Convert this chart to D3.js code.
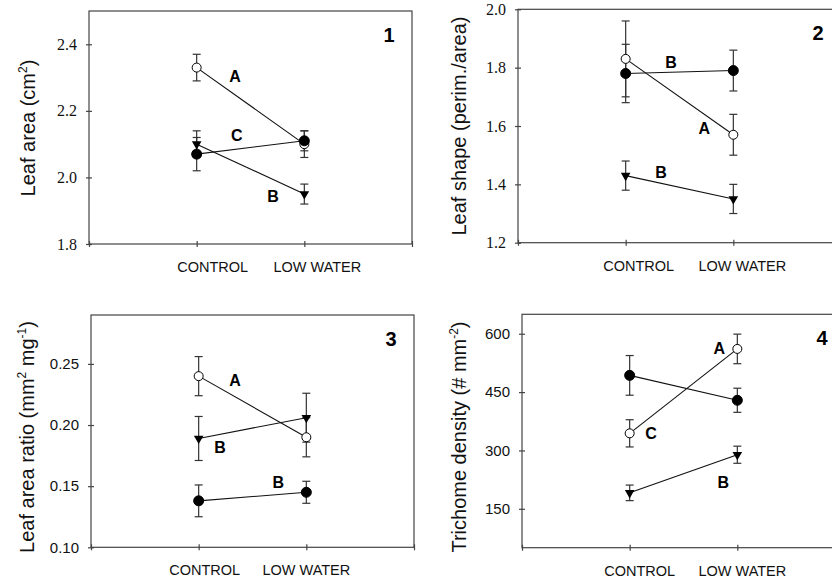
<!DOCTYPE html>
<html>
<head>
<meta charset="utf-8">
<script src="https://cdn.jsdelivr.net/npm/d3@7"></script>
<style>
  body { margin: 0; background: #fff; }
  svg { display: block; }
</style>
</head>
<body>
<script>
// treatments on the x axis
var treatments = ["CONTROL", "LOW WATER"];
var treatmentX = [1, 2];

// panel 1 - leaf area (cm2)
var areaOpen = [2.33, 2.10], areaOpenErr = [0.04, 0.04];
var areaFilled = [2.07, 2.11], areaFilledErr = [0.05, 0.03];
var areaTri = [2.10, 1.95], areaTriErr = [0.04, 0.03];
var areaTicks = [1.8, 2.0, 2.2, 2.4];
var areaLetters = ["A", "C", "B"];
var areaLetterX = [1.356, 1.372, 1.709];
var areaLetterY = [2.304, 2.127, 1.943];

// panel 2 - leaf shape (perim./area)
var shapeOpen = [1.83, 1.57], shapeOpenErr = [0.13, 0.07];
var shapeFilled = [1.78, 1.79], shapeFilledErr = [0.10, 0.07];
var shapeTri = [1.43, 1.35], shapeTriErr = [0.05, 0.05];
var shapeTicks = [1.2, 1.4, 1.6, 1.8, 2.0];
var shapeLetters = ["B", "A", "B"];
var shapeLetterX = [1.421, 1.730, 1.328];
var shapeLetterY = [1.819, 1.592, 1.441];

// panel 3 - leaf area ratio
var larOpen = [0.240, 0.190], larOpenErr = [0.016, 0.016];
var larFilled = [0.138, 0.145], larFilledErr = [0.013, 0.009];
var larTri = [0.189, 0.206], larTriErr = [0.018, 0.020];
var larTicks = [0.10, 0.15, 0.20, 0.25];
var larLetters = ["A", "B", "B"];
var larLetterX = [1.337, 1.198, 1.740];
var larLetterY = [0.2367, 0.1817, 0.1536];

// panel 4 - trichome density
var trichOpen = [344, 561], trichOpenErr = [35, 38];
var trichFilled = [493, 429], trichFilledErr = [51, 31];
var trichTri = [191, 289], trichTriErr = [20, 22];
var trichTicks = [150, 300, 450, 600];
var trichLetters = ["A", "C", "B"];
var trichLetterX = [1.832, 1.198, 1.870];
var trichLetterY = [562, 344, 219];

var panels = [
	{
		num: "1", left: 89, top: 11, bottom: 244, domain: [1.8, 2.5],
		ticks: areaTicks, fmt: d3.format(".1f"), serif: true, labelShift: [16, 13],
		titleX: 28, titleY: 128, title: [["Leaf area (cm", false], ["2", true], [")", false]],
		series: [
			{ v: areaOpen, e: areaOpenErr, m: "open" },
			{ v: areaFilled, e: areaFilledErr, m: "filled" },
			{ v: areaTri, e: areaTriErr, m: "tri" }
		],
		letters: areaLetters, lx: areaLetterX, ly: areaLetterY
	},
	{
		num: "2", left: 518, top: 9.3, bottom: 242.7, domain: [1.2, 2.0],
		ticks: shapeTicks, fmt: d3.format(".1f"), serif: true, labelShift: [13, 9],
		titleX: 459, titleY: 126, title: [["Leaf shape (perim./area)", false]],
		series: [
			{ v: shapeOpen, e: shapeOpenErr, m: "open" },
			{ v: shapeFilled, e: shapeFilledErr, m: "filled" },
			{ v: shapeTri, e: shapeTriErr, m: "tri" }
		],
		letters: shapeLetters, lx: shapeLetterX, ly: shapeLetterY
	},
	{
		num: "3", left: 91, top: 315, bottom: 547.3, domain: [0.10, 0.29],
		ticks: larTicks, fmt: d3.format(".2f"), serif: false, labelShift: [6, 0],
		titleX: 27, titleY: 437,
		title: [["Leaf area ratio (mm", false], ["2", true], [" mg", false], ["-1", true], [")", false]],
		series: [
			{ v: larOpen, e: larOpenErr, m: "open" },
			{ v: larFilled, e: larFilledErr, m: "filled" },
			{ v: larTri, e: larTriErr, m: "tri" }
		],
		letters: larLetters, lx: larLetterX, ly: larLetterY
	},
	{
		num: "4", left: 522, top: 314.3, bottom: 547.7, domain: [50, 650],
		ticks: trichTicks, fmt: d3.format("d"), serif: false, labelShift: [10, 5],
		titleX: 459, titleY: 437,
		title: [["Trichome density (# mm", false], ["-2", true], [")", false]],
		series: [
			{ v: trichOpen, e: trichOpenErr, m: "open" },
			{ v: trichFilled, e: trichFilledErr, m: "filled" },
			{ v: trichTri, e: trichTriErr, m: "tri" }
		],
		letters: trichLetters, lx: trichLetterX, ly: trichLetterY
	}
];

var plotWidth = 323;
var axisColor = "#444";
var sans = "'Liberation Sans', Arial, sans-serif";
var serif = "'Liberation Serif', 'Times New Roman', serif";

var svg = d3.select("body").append("svg")
	.attr("width", 832)
	.attr("height", 579);

var triangle = d3.symbol().type(d3.symbolTriangle).size(40);

panels.forEach(function (p) {
	var x = d3.scaleLinear().domain([0, 3]).range([p.left, p.left + plotWidth]);
	var y = d3.scaleLinear().domain(p.domain).range([p.bottom, p.top]);
	var g = svg.append("g");

	// frame
	g.append("rect")
		.attr("x", p.left).attr("y", p.top)
		.attr("width", plotWidth).attr("height", p.bottom - p.top)
		.attr("fill", "none").attr("stroke", axisColor).attr("stroke-width", 1.2);

	// y axis
	var yAxis = g.append("g")
		.attr("transform", "translate(" + p.left + ",0)")
		.call(d3.axisLeft(y).tickValues(p.ticks).tickFormat(p.fmt).tickSize(3).tickPadding(9));
	yAxis.select(".domain").remove();
	yAxis.selectAll(".tick line").attr("x1", 3).attr("stroke", axisColor).attr("stroke-width", 1.2);
	yAxis.selectAll(".tick text")
		.attr("fill", "#111")
		.style("font-family", p.serif ? serif : sans)
		.style("font-size", p.serif ? "16px" : "15px");

	// x axis ticks
	var xAxis = g.append("g")
		.attr("transform", "translate(0," + p.bottom + ")")
		.call(d3.axisBottom(x).tickValues([0, 1, 2, 3]).tickSize(3).tickFormat(""));
	xAxis.select(".domain").remove();
	xAxis.selectAll(".tick line").attr("y1", -3).attr("stroke", axisColor).attr("stroke-width", 1.2);

	// x labels
	treatments.forEach(function (t, i) {
		g.append("text")
			.attr("x", x(treatmentX[i]) + p.labelShift[i])
			.attr("y", p.bottom + 28)
			.attr("text-anchor", "middle")
			.style("font-family", sans)
			.style("font-size", "14.5px")
			.attr("fill", "#111")
			.text(t);
	});

	// y title
	var title = g.append("text")
		.attr("transform", "translate(" + p.titleX + "," + p.titleY + ") rotate(-90)")
		.attr("text-anchor", "middle")
		.attr("dy", "0.35em")
		.style("font-family", sans)
		.style("font-size", "20px")
		.attr("fill", "#111");
	var raised = false;
	p.title.forEach(function (part) {
		var ts = title.append("tspan").text(part[0]);
		if (part[1] && !raised) { ts.attr("dy", -8).style("font-size", "12px"); raised = true; }
		else if (!part[1] && raised) { ts.attr("dy", 8); raised = false; }
		else if (part[1]) { ts.style("font-size", "12px"); }
	});

	// panel number
	g.append("text")
		.attr("x", p.left + 300)
		.attr("y", p.top + 24)
		.attr("dy", "0.35em")
		.attr("text-anchor", "middle")
		.style("font-family", sans)
		.style("font-size", "20px")
		.style("font-weight", "bold")
		.text(p.num);

	var line = d3.line()
		.x(function (d, i) { return x(treatmentX[i]); })
		.y(function (d) { return y(d); });

	// connecting lines
	p.series.forEach(function (s) {
		g.append("path")
			.attr("d", line(s.v))
			.attr("fill", "none")
			.attr("stroke", "#111")
			.attr("stroke-width", 1.1);
	});

	// error bars
	p.series.forEach(function (s) {
		s.v.forEach(function (v, i) {
			var cx = x(treatmentX[i]);
			var eb = g.append("g").attr("stroke", "#333").attr("stroke-width", 1.2);
			eb.append("line")
				.attr("x1", cx).attr("x2", cx)
				.attr("y1", y(v - s.e[i])).attr("y2", y(v + s.e[i]));
			[v - s.e[i], v + s.e[i]].forEach(function (c) {
				eb.append("line")
					.attr("x1", cx - 4).attr("x2", cx + 4)
					.attr("y1", y(c)).attr("y2", y(c));
			});
		});
	});

	// markers
	p.series.forEach(function (s) {
		s.v.forEach(function (v, i) {
			var cx = x(treatmentX[i]), cy = y(v);
			if (s.m === "tri") {
				g.append("path")
					.attr("d", triangle())
					.attr("transform", "translate(" + cx + "," + cy + ") rotate(180)")
					.attr("fill", "#000");
			} else {
				g.append("circle")
					.attr("cx", cx).attr("cy", cy)
					.attr("r", s.m === "open" ? 4.5 : 5)
					.attr("fill", s.m === "open" ? "#fff" : "#000")
					.attr("stroke", "#000")
					.attr("stroke-width", 1);
			}
		});
	});

	// letter labels
	p.letters.forEach(function (l, i) {
		g.append("text")
			.attr("x", x(p.lx[i]))
			.attr("y", y(p.ly[i]))
			.attr("dy", "0.36em")
			.attr("text-anchor", "middle")
			.style("font-family", sans)
			.style("font-size", "16px")
			.style("font-weight", "bold")
			.text(l);
	});
});
</script>
</body>
</html>
